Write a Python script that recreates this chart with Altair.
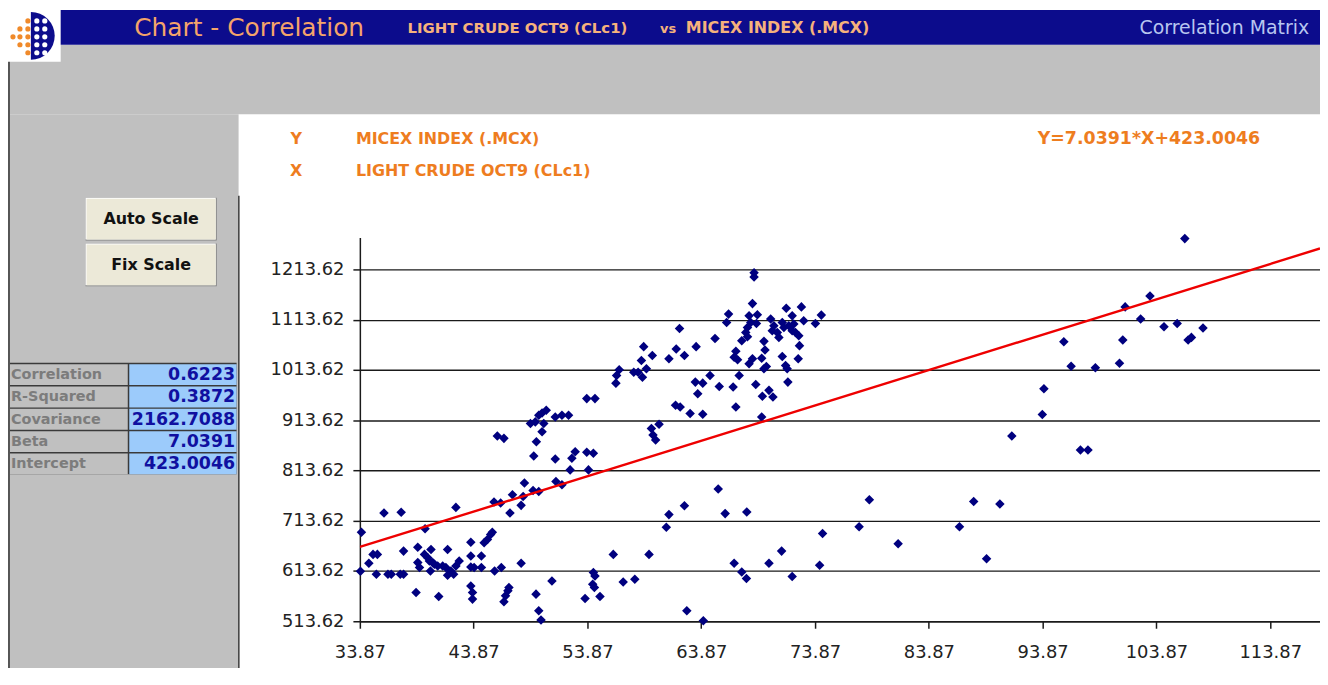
import altair as alt
import pandas as pd

# ---------------- data ----------------
X_VALS = [34.01, 33.92, 34.66, 35.03, 35.41, 35.32, 35.99, 37.50, 36.34, 36.63,
          37.42, 37.71, 37.71, 38.81, 38.96, 39.60, 38.96, 39.11, 39.55, 39.84,
          40.12, 39.98, 40.27, 40.07, 40.42, 40.71, 40.80, 41.15, 41.43, 41.58,
          41.87, 42.11, 42.31, 42.60, 41.58, 42.31, 43.62, 43.62, 43.62, 43.91,
          43.62, 43.77, 43.77, 44.55, 44.55, 44.79, 45.08, 45.36, 45.51, 45.66,
          46.24, 45.71, 46.30, 46.53, 46.67, 46.88, 46.97, 47.06, 47.28, 48.04,
          48.04, 48.33, 48.22, 49.15, 49.09, 49.59, 49.35, 49.59, 49.79, 49.38,
          50.75, 51.04, 51.10, 51.63, 52.35, 52.50, 52.79, 53.81, 54.39, 53.96,
          54.39, 54.53, 54.33, 54.48, 53.66, 54.97, 56.14, 57.01, 58.03, 45.95,
          46.53, 48.86, 49.29, 49.59, 49.88, 50.25, 50.03, 49.88, 51.04, 51.63,
          52.21, 53.81, 54.53, 56.43, 56.66, 56.37, 57.94, 68.51, 68.51, 58.81,
          59.57, 58.61, 59.05, 58.70, 58.32, 61.96, 61.67, 62.39, 61.03, 63.42,
          65.08, 66.27, 66.10, 68.37, 68.07, 68.80, 68.22, 68.72, 67.93, 67.78,
          67.93, 67.43, 69.97, 70.25, 70.11, 70.55, 70.69, 70.99, 71.13, 71.34,
          71.86, 71.56, 71.86, 72.15, 72.44, 72.67, 72.87, 72.00, 73.90, 74.42,
          69.38, 69.47, 72.50, 72.39, 66.91, 66.76, 67.06, 68.37, 68.07, 69.18,
          70.99, 69.38, 69.59, 71.28, 71.42, 67.20, 64.64, 63.35, 64.00, 63.56,
          65.45, 66.67, 68.66, 71.48, 69.82, 70.17, 69.24, 61.61, 62.02, 62.89,
          64.00, 66.91, 69.18, 60.16, 59.49, 59.63, 59.86, 59.28, 60.80, 61.03,
          62.39, 62.60, 64.05, 65.36, 65.97, 67.87, 66.76, 67.43, 67.84, 69.82,
          70.93, 71.86, 74.27, 74.53, 77.74, 78.64, 81.17, 86.56, 87.81, 88.94,
          90.11, 106.36, 103.30, 101.12, 102.48, 104.53, 105.69, 107.96, 106.65, 106.94,
          95.73, 100.91, 96.37, 98.50, 100.62, 93.98, 93.84, 91.16, 97.19, 97.85]

Y_VALS = [690.8, 613.1, 628.9, 646.7, 646.7, 607.2, 729.2, 730.4, 607.2, 607.2,
          607.2, 607.2, 653.2, 570.9, 661.1, 697.5, 630.3, 620.4, 646.7, 640.2,
          656.6, 633.4, 630.3, 613.7, 626.9, 623.6, 563.1, 623.6, 620.4, 605.2,
          613.7, 607.2, 623.6, 633.4, 656.6, 740.2, 671.0, 643.3, 621.6, 620.4,
          584.0, 570.9, 557.7, 643.3, 620.4, 669.8, 676.4, 686.2, 690.8, 750.9,
          748.9, 613.7, 620.4, 552.4, 564.2, 574.1, 580.8, 729.2, 765.3, 744.2,
          628.9, 788.5, 762.0, 842.5, 773.8, 771.9, 567.6, 534.6, 516.2, 870.7,
          593.9, 836.5, 791.6, 785.1, 814.8, 837.9, 851.0, 849.8, 847.8, 814.8,
          610.5, 603.8, 587.4, 580.8, 559.1, 563.1, 646.7, 591.9, 597.3, 882.0,
          877.5, 907.1, 910.3, 923.5, 928.1, 933.4, 907.1, 890.5, 920.2, 923.5,
          923.5, 956.6, 956.6, 1002.6, 1013.9, 987.4, 1009.2, 1206.9, 1198.4, 1060.0,
          1042.2, 1032.3, 1015.9, 999.3, 1009.2, 1096.2, 1055.4, 1042.2, 1035.7, 1060.0,
          1076.4, 1124.7, 1108.0, 1145.6, 1121.3, 1123.3, 1108.0, 1106.1, 1098.2, 1088.3,
          1079.8, 1071.8, 1114.8, 1101.5, 1091.6, 1088.3, 1078.4, 1108.0, 1098.2, 1136.5,
          1121.3, 1101.5, 1091.6, 1088.3, 1081.7, 1139.1, 1111.4, 1104.9, 1106.1, 1122.7,
          1070.5, 1053.5, 1062.0, 1035.7, 1050.7, 1038.8, 1033.7, 1035.7, 1025.8, 1036.9,
          1040.2, 1015.9, 1020.4, 1022.4, 1015.9, 1002.6, 1002.6, 989.4, 987.4, 966.4,
          980.9, 979.5, 984.8, 989.4, 973.0, 959.7, 961.1, 943.3, 940.0, 926.9,
          925.5, 940.0, 920.2, 905.7, 897.2, 884.0, 874.1, 646.7, 700.7, 725.8,
          743.6, 534.6, 514.8, 776.6, 727.8, 731.1, 628.9, 611.7, 598.6, 628.9,
          653.2, 602.6, 624.9, 688.2, 701.5, 755.5, 667.8, 701.5, 752.1, 638.2,
          746.9, 1274.9, 1160.8, 1139.1, 1114.8, 1099.5, 1106.1, 1097.0, 1073.2, 1078.4,
          1069.9, 1073.2, 1021.0, 1017.9, 1027.0, 976.3, 924.9, 882.0, 854.3, 854.3]

BETA = 7.0391
INTERCEPT = 423.0046
X_TICKS = [33.87, 43.87, 53.87, 63.87, 73.87, 83.87, 93.87, 103.87, 113.87]
Y_TICKS = [513.62, 613.62, 713.62, 813.62, 913.62, 1013.62, 1113.62, 1213.62]
X_DOMAIN = [33.87, 118.24]
Y_DOMAIN = [513.62, 1276.9]

STAT_NAMES = ["Correlation", "R-Squared", "Covariance", "Beta", "Intercept"]
STAT_VALUES = ["0.6223", "0.3872", "2162.7088", "7.0391", "423.0046"]

TITLE = "Chart - Correlation"
X_NAME = "LIGHT CRUDE OCT9 (CLc1)"
Y_NAME = "MICEX INDEX (.MCX)"
EQUATION = "Y=7.0391*X+423.0046"
BUTTONS = ["Auto Scale", "Fix Scale"]

# ---------------- tables built from the arrays ----------------
pts = pd.DataFrame({"x": X_VALS, "y": Y_VALS})
trend = pd.DataFrame({"x": X_DOMAIN})
trend["y"] = BETA * trend["x"] + INTERCEPT

# ---------------- layout helpers (page pixels -> plot pixels) ----------------
OX, OY = 362, 237
ONE = pd.DataFrame({"k": [0]})
NAVY = "#0c0c8c"
GRAY = "#c0c0c0"
DARK = "#1a1a1a"
ORANGE = "#ee7d1f"
FONT = "DejaVu Sans"


def box(x1, y1, x2, y2, fill, **kw):
    return alt.Chart(ONE).mark_rect(fill=fill, **kw).encode(
        x=alt.value(x1 - OX), x2=alt.value(x2 - OX),
        y=alt.value(y1 - OY), y2=alt.value(y2 - OY))


def txt(x, y, s, size, color, weight="normal", align="left", font=FONT):
    return alt.Chart(ONE).mark_text(
        text=s, fontSize=size, color=color, fontWeight=weight,
        align=align, baseline="middle", font=font).encode(
        x=alt.value(x - OX), y=alt.value(y - OY))


def dot(x, y, color, r=2.6):
    return alt.Chart(ONE).mark_circle(color=color, opacity=1, size=(2 * r) ** 2).encode(
        x=alt.value(x - OX), y=alt.value(y - OY))


layers = []
# gray panels and header
layers.append(box(10, 43, 1328, 113, GRAY))
layers.append(box(10, 113, 240, 690, GRAY))
layers.append(box(8, 8, 61, 60, "#ffffff"))
layers.append(box(61, 8, 1328, 43, NAVY))
layers.append(box(8, 60, 10, 690, "#555555"))
layers.append(box(239.5, 195, 241, 690, "#3a3a3a"))

# logo
layers.append(alt.Chart(ONE).mark_arc(color=NAVY, radius=24).encode(
    x=alt.value(31 - OX), y=alt.value(34 - OY),
    theta=alt.value(0), theta2=alt.value(3.14159)))
for yy in [19, 27, 35, 43, 51]:
    layers.append(dot(37, yy, "#ffffff"))
    layers.append(dot(45, yy, "#ffffff"))
    layers.append(dot(28, yy, "#f08a2a"))
for yy in [27, 35, 43]:
    layers.append(dot(20, yy, "#f08a2a"))
layers.append(dot(13, 35, "#f08a2a"))

# header texts
layers.append(txt(135, 26, TITLE, 25, "#f4a46a"))
layers.append(txt(410, 26, X_NAME, 15, "#f6b27c", weight="bold"))
layers.append(txt(664, 27, "vs", 13, "#f6b27c", weight="bold"))
layers.append(txt(690, 26, Y_NAME, 16, "#f6b27c", weight="bold"))
layers.append(txt(1317, 26, "Correlation Matrix", 19, "#b8c6f0", align="right"))

# buttons
for i, name in enumerate(BUTTONS):
    y1 = 197 + i * 46
    y2 = y1 + 43
    layers.append(box(86, y1, 218, y2, "#808080"))
    layers.append(box(86, y1, 217, y2 - 1, "#ffffff"))
    layers.append(box(87, y1 + 1, 217, y2 - 1, "#ece9d8"))
    layers.append(txt(152, (y1 + y2) / 2, name, 16, "#111111", weight="bold", align="center"))

# statistics table
T0, RH = 363, 22.4
layers.append(box(10, T0, 238, T0 + RH * len(STAT_NAMES), "#3a3a3a"))
for i, (nm, val) in enumerate(zip(STAT_NAMES, STAT_VALUES)):
    y1 = T0 + i * RH + 1.5
    y2 = T0 + (i + 1) * RH
    layers.append(box(10, y1, 128.5, y2, GRAY))
    layers.append(box(130, y1, 238, y2, "#9ccbfb"))
    layers.append(txt(11, (y1 + y2) / 2 + 0.5, nm, 14.5, "#7c7c7c", weight="bold"))
    layers.append(txt(236.5, (y1 + y2) / 2 + 0.5, val, 17.5, "#1010a0", weight="bold", align="right"))

# chart panel labels
layers.append(txt(298, 138, "Y", 16, ORANGE, weight="bold", align="center"))
layers.append(txt(358, 138, Y_NAME, 16, ORANGE, weight="bold"))
layers.append(txt(298, 170, "X", 16, ORANGE, weight="bold", align="center"))
layers.append(txt(358, 170, X_NAME, 16, ORANGE, weight="bold"))
layers.append(txt(1044, 138, EQUATION, 17.5, ORANGE, weight="bold"))

# ---------------- the scatter plot ----------------
xscale = alt.Scale(domain=X_DOMAIN, nice=False, zero=False)
yscale = alt.Scale(domain=Y_DOMAIN, nice=False, zero=False)
xaxis = alt.Axis(values=X_TICKS, format=".2f", title=None, grid=False,
                 domainColor=DARK, domainWidth=1.5, tickColor=DARK, tickWidth=1.5,
                 tickSize=7, labelFont=FONT, labelFontSize=18, labelColor="#222222",
                 labelPadding=15, labelFlush=False, labelOverlap=False)
yaxis = alt.Axis(values=Y_TICKS, format=".2f", title=None, grid=True,
                 gridColor=DARK, gridWidth=1.4, gridOpacity=1,
                 domainColor=DARK, domainWidth=1.5, tickColor=DARK, tickWidth=1.5,
                 tickSize=7, labelFont=FONT, labelFontSize=18, labelColor="#222222",
                 labelPadding=9, labelFlush=False, labelOverlap=False)

scatter = alt.Chart(pts).mark_point(shape="diamond", filled=True, size=92,
                                    color="#00007f", opacity=1).encode(
    x=alt.X("x:Q", scale=xscale, axis=xaxis),
    y=alt.Y("y:Q", scale=yscale, axis=yaxis))

line = alt.Chart(trend).mark_line(color="#ee0000", strokeWidth=2.4, clip=True).encode(
    x=alt.X("x:Q", scale=xscale), y=alt.Y("y:Q", scale=yscale))

layers += [scatter, line]

chart = alt.layer(*layers).properties(
    width=966, height=386,
    padding={"left": 354, "top": 229, "right": 0, "bottom": 45},
    autosize=alt.AutoSizeParams(type="none"),
    background="#ffffff",
).configure_view(stroke=None)

chart.save("out.html", embed_options={"renderer": "svg", "actions": False})
